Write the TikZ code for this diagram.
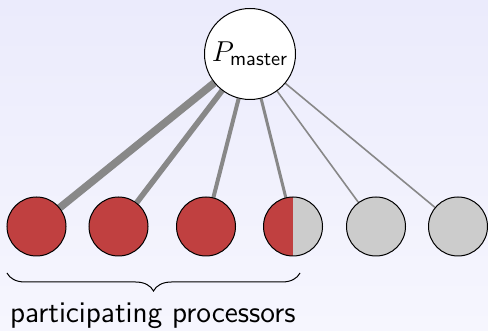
\documentclass[tikz,border=0pt]{standalone}
\usepackage{tikz}
\usepackage{amsmath}
\usepackage{xcolor}
\usetikzlibrary{shapes,arrows,positioning,calc,backgrounds,decorations.pathreplacing}

\definecolor{bgtop}{RGB}{235,235,252}
\definecolor{bgbot}{RGB}{246,246,254}
\definecolor{procred}{RGB}{192,64,64}
\definecolor{procgray}{RGB}{204,204,204}
\definecolor{linkgray}{RGB}{136,136,136}

\begin{document}
\begin{tikzpicture}[x=0.5pt, y=-0.5pt]
  % Estilos
  \tikzstyle{master}=[circle, draw=black, fill=white, line width=0.5pt, minimum size=45.5pt, inner sep=0pt, font=\fontsize{14.5}{16}\selectfont]
  \tikzstyle{proc}=[circle, draw=black, line width=0.5pt, minimum size=29.5pt, inner sep=0pt]
  \tikzstyle{busy}=[proc, fill=procred]
  \tikzstyle{idle}=[proc, fill=procgray]
  \tikzstyle{half}=[proc, fill=procgray, path picture={\fill[procred] (path picture bounding box.south west) rectangle (path picture bounding box.north);}]
  \tikzstyle{link}=[draw=linkgray]

  \useasboundingbox (0,0) rectangle (488,331);

  % Master
  \node[master] (pm) at (250,54) {$P_{\textsf{master}}$};

  % Procesadores
  \node[busy] (p1) at (36.5,226.5) {};
  \node[busy] (p2) at (118.5,226.5) {};
  \node[busy] (p3) at (206,226.5) {};
  \node[half] (p4) at (293,226.5) {};
  \node[idle] (p5) at (376,226.5) {};
  \node[idle] (p6) at (458,226.5) {};

  % Fondo y conexiones (grosor = carga)
  \begin{scope}[on background layer]
    \shade[top color=bgtop, bottom color=bgbot] (0,0) rectangle (488,331);
    \draw[link, line width=3.8pt] (pm) -- (p1);
    \draw[link, line width=2.8pt] (pm) -- (p2);
    \draw[link, line width=2pt] (pm) -- (p3);
    \draw[link, line width=1.5pt] (pm) -- (p4);
    \draw[link, line width=0.8pt] (pm) -- (p5);
    \draw[link, line width=0.8pt] (pm) -- (p6);
  \end{scope}

  % Llave
  \draw[decorate, decoration={brace, mirror, amplitude=9pt}, line width=0.5pt] (7,273) coordinate (bl) -- (300,273) coordinate (br);
  \node[font=\fontsize{15}{17}\sffamily, anchor=base west] (lbl) at (3,323) {participating processors};
\end{tikzpicture}
\end{document}
